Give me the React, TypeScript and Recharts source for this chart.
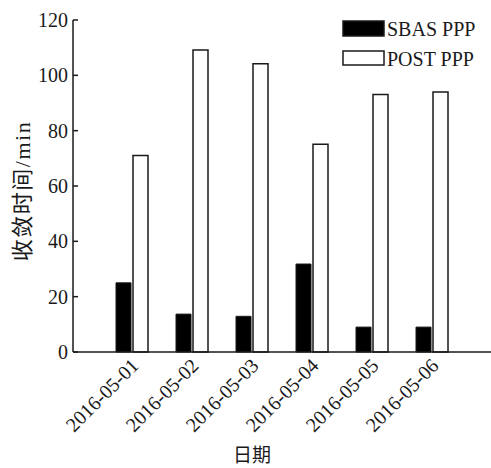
import React from 'react';
import { BarChart, Bar, XAxis, YAxis, Legend } from 'recharts';

const categories = ['2016-05-01', '2016-05-02', '2016-05-03', '2016-05-04', '2016-05-05', '2016-05-06'];
const sbasValues = [25, 13.7, 12.9, 31.8, 9, 9];
const postValues = [71, 109.2, 104.2, 75.1, 93.1, 94];
const yTicks = [0, 20, 40, 60, 80, 100, 120];

const data = categories.map((c, i) => ({ date: c, sbas: sbasValues[i], post: postValues[i] }));

const FONT = "'Liberation Serif', 'Times New Roman', 'Noto Sans CJK SC', serif";
const INK = '#1a1a1a';

const YTick = (props: any) => {
  const { x, y, payload } = props;
  return (
    <g>
      <line x1={x + 5} x2={x + 10} y1={y} y2={y} stroke={INK} strokeWidth={1.5} />
      <text x={x} y={y} dy="0.35em" textAnchor="end" style={{ fontFamily: FONT, fontSize: 20 }} fill={INK}>
        {payload.value}
      </text>
    </g>
  );
};

const XTick = (props: any) => {
  const { x, y, payload } = props;
  const ax = x + 3;
  const ay = y + 8;
  return (
    <text
      x={ax}
      y={ay}
      dy="0.35em"
      textAnchor="end"
      transform={`rotate(-45, ${ax}, ${ay})`}
      style={{ fontFamily: FONT, fontSize: 20 }}
      fill={INK}
    >
      {payload.value}
    </text>
  );
};

const LegendContent = () => (
  <svg width={148} height={52} style={{ display: 'block' }}>
    <rect x={1} y={3} width={41} height={15} fill="#000" stroke={INK} strokeWidth={1.5} />
    <text x={45} y={18} style={{ fontFamily: FONT, fontSize: 20 }} fill={INK}>SBAS PPP</text>
    <rect x={1} y={33} width={41} height={14} fill="#fff" stroke={INK} strokeWidth={1.5} />
    <text x={45} y={48} style={{ fontFamily: FONT, fontSize: 20 }} fill={INK}>POST PPP</text>
  </svg>
);

export default function App() {
  return (
    <div style={{ position: 'absolute', left: 0, top: 0, width: 491, height: 468, background: '#fff', fontFamily: FONT }}>
      <BarChart
        width={491}
        height={468}
        data={data}
        margin={{ top: 20, right: 0, bottom: 0, left: 0 }}
        barCategoryGap={14}
        barGap={2}
      >
        <XAxis
          dataKey="date"
          height={116}
          padding={{ left: 29, right: 29 }}
          tickLine={false}
          tickSize={0}
          tickMargin={2}
          interval={0}
          axisLine={{ stroke: INK, strokeWidth: 1.5 }}
          tick={<XTick />}
          label={{
            value: '日期',
            position: 'insideBottom',
            offset: 6,
            dx: -30,
            style: { fontFamily: FONT, fontSize: 19, fill: INK },
          }}
        />
        <YAxis
          width={73}
          domain={[0, 120]}
          ticks={yTicks}
          interval={0}
          tickLine={false}
          tickSize={0}
          tickMargin={5}
          axisLine={{ stroke: INK, strokeWidth: 1.5 }}
          tick={<YTick />}
          label={{
            content: (p: any) => {
              const vb = p.viewBox;
              const cx = vb.x + 22;
              const cy = vb.y + vb.height / 2 + 5;
              return (
                <text
                  x={cx}
                  y={cy}
                  dy="0.35em"
                  textAnchor="middle"
                  transform={`rotate(-90, ${cx}, ${cy})`}
                  style={{ fontFamily: FONT, fontSize: 22, letterSpacing: 1.5 }}
                  fill={INK}
                >
                  收敛时间/min
                </text>
              );
            },
          }}
        />
        <Legend
          layout="vertical"
          align="center"
          verticalAlign="middle"
          content={<LegendContent />}
          wrapperStyle={{ position: 'absolute', left: 342, top: 18, width: 148, height: 52 }}
        />
        <Bar dataKey="sbas" name="SBAS PPP" fill="#000" stroke={INK} strokeWidth={1} isAnimationActive={false} />
        <Bar dataKey="post" name="POST PPP" fill="#fff" stroke={INK} strokeWidth={1.5} isAnimationActive={false} />
      </BarChart>
    </div>
  );
}
